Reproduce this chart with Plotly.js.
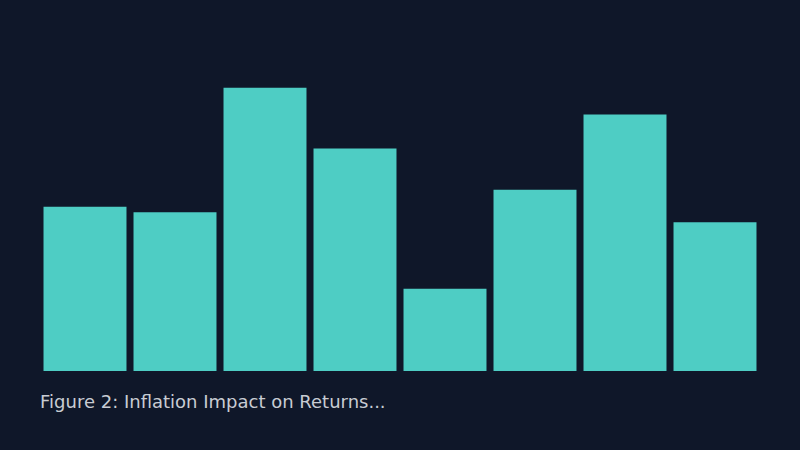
<!DOCTYPE html>
<html>
<head>
<meta charset="utf-8">
<script src="https://cdn.plot.ly/plotly-3.0.1.min.js"></script>
<style>
  html, body { margin: 0; padding: 0; background: #0f1729; }
  #chart { width: 800px; height: 450px; }
</style>
</head>
<body>
<div id="chart"></div>
<script>
// categories and values (no axis shown, relative scale)
const periods = ['P1', 'P2', 'P3', 'P4', 'P5', 'P6', 'P7', 'P8'];
const impact = [5.8, 5.6, 10.0, 7.85, 2.9, 6.4, 9.05, 5.25];
const caption = 'Figure 2: Inflation Impact on Returns...';

let trace = {
  x: periods,
  y: impact,
  type: 'bar',
  marker: { color: '#4ECDC4' },
  hoverinfo: 'skip'
};

let layout = {
  width: 800,
  height: 450,
  paper_bgcolor: '#0f1729',
  plot_bgcolor: '#0f1729',
  margin: { l: 40, r: 40, t: 31, b: 79 },
  bargap: 0.078,
  showlegend: false,
  xaxis: { visible: false, fixedrange: true },
  yaxis: { visible: false, range: [0, 12], fixedrange: true },
  font: { family: 'DejaVu Sans, sans-serif' },
  annotations: [
    {
      text: caption,
      xref: 'paper',
      yref: 'paper',
      x: 0,
      y: 0,
      xanchor: 'left',
      yanchor: 'middle',
      xshift: -2,
      yshift: -30,
      showarrow: false,
      font: { size: 18, color: '#c8ccd3', family: 'DejaVu Sans, sans-serif' }
    }
  ]
};

Plotly.newPlot('chart', [trace], layout, { displayModeBar: false, staticPlot: true });
</script>
</body>
</html>
